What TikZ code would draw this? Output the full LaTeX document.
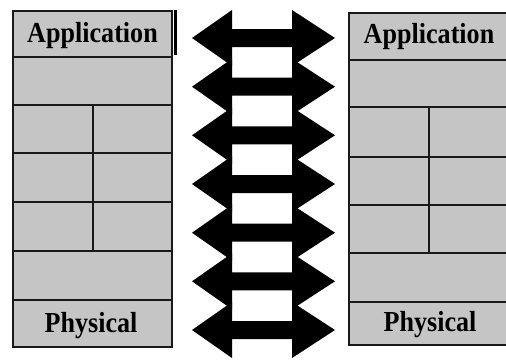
\documentclass[tikz,border=0pt]{standalone}
\usepackage{fontspec}
\setmainfont{Liberation Serif}
\definecolor{layerfill}{RGB}{197,197,197}
\definecolor{edgeline}{RGB}{25,25,25}
\tikzset{
  layerbox/.style={fill=layerfill, draw=edgeline, line width=1.7pt},
  divider/.style={draw=edgeline, line width=1.7pt},
  layername/.style={font=\bfseries\fontsize{29}{29}\selectfont, anchor=base, inner sep=0pt, text=black},
  twoway/.style={fill=black}
}
\begin{document}
\begin{tikzpicture}[x=1pt,y=-1pt]
\useasboundingbox (0,0) rectangle (506,359);
\clip (0,0) rectangle (506,359);

% left protocol stack
\fill[layerfill] (13,11) rectangle (172,347);
\foreach \y in {57,105,153,202,251,300}
  \draw[divider] (13,\y) -- (172,\y);
\draw[divider] (93,105) -- (93,251);
\draw[layerbox, fill=none] (13,11) rectangle (172,347);
\node[layername] (lapp) at (92.5,42) {\scalebox{0.9}[1]{Application}};
\node[layername] (lphy) at (91,332) {\scalebox{0.9}[1]{Physical}};

% marker bar next to the top layer
\draw[line width=3pt, black] (175,10) -- (175,55);

% right protocol stack
\fill[layerfill] (349,13) rectangle (511,345);
\foreach \y in {60,107,157,205,253,302}
  \draw[divider] (349,\y) -- (511,\y);
\draw[divider] (429,107) -- (429,253);
\draw[layerbox, fill=none] (349,13) rectangle (511,345);
\node[layername] (rapp) at (429,43) {\scalebox{0.9}[1]{Application}};
\node[layername] (rphy) at (430,331) {\scalebox{0.9}[1]{Physical}};

% peer-to-peer double arrows between the layers
\foreach \c in {38,86.7,135.3,184,232.7,281.3,330}
  \fill[twoway] (192,\c) -- (232,\c-28) -- (232,\c-9) -- (292,\c-9) -- (292,\c-28)
    -- (335,\c) -- (292,\c+28) -- (292,\c+9) -- (232,\c+9) -- (232,\c+28) -- cycle;
\end{tikzpicture}
\end{document}
